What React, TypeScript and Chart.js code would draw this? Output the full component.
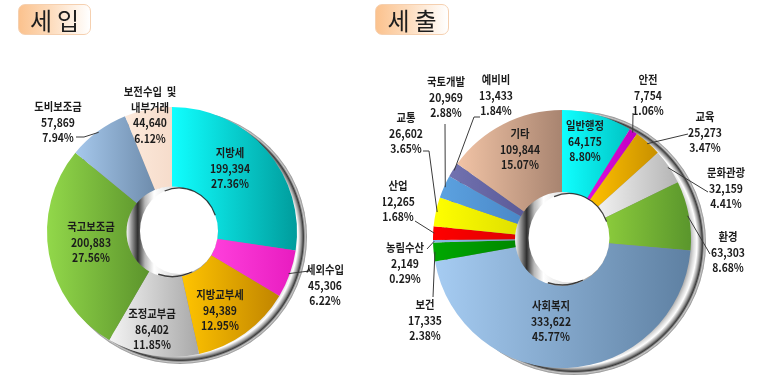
import React, { useEffect, useRef } from "react";
import { Chart, ArcElement, DoughnutController } from "chart.js";

Chart.register(ArcElement, DoughnutController);

// ---------- data ----------
const revenueCategories = ["지방세", "세외수입", "지방교부세", "조정교부금", "국고보조금", "도비보조금", "보전수입  및\n내부거래"];
const revenueValues = [199394, 45306, 94389, 86402, 200883, 57869, 44640];

const expenditureCategories = ["일반행정", "안전", "교육", "문화관광", "환경", "사회복지", "보건", "농림수산", "산업", "교통", "국토개발", "예비비", "기타"];
const expenditureValues = [64175, 7754, 25273, 32159, 63303, 333622, 17335, 2149, 12265, 26602, 20969, 13433, 109844];

// ---------- styles ----------
const revenueColors = [
  ["#10ffff", "#009c9c"],
  ["#ff40dc", "#e81cc0"],
  ["#ffc400", "#c08400"],
  ["#f4f4f4", "#a8a8a8"],
  ["#92d84a", "#5c942c"],
  ["#a6c8ec", "#6e8cac"],
  ["#fdeadc", "#f6dccb"],
];
const expenditureColors = [
  ["#10ffff", "#00c4c4"],
  ["#e010e0", "#c000c0"],
  ["#ffc000", "#c89000"],
  ["#f2f2f2", "#b4b4b4"],
  ["#8ccc3c", "#5a962c"],
  ["#a6ccf2", "#5e80a2"],
  ["#00a800", "#008800"],
  ["#8cb8e4", "#7aa6d4"],
  ["#ff0000", "#e00000"],
  ["#ffff00", "#e0e000"],
  ["#5ca2e0", "#4a88c8"],
  ["#7272b0", "#5a5a98"],
  ["#f2c4a6", "#a88470"],
];

type Placement = { x: number; y: number; lead?: number[][] };

const revenuePlacements: Placement[] = [
  { x: 230, y: 153 },
  { x: 325, y: 270, lead: [[309, 271]] },
  { x: 220, y: 295 },
  { x: 152, y: 314 },
  { x: 91, y: 227 },
  { x: 58, y: 107, lead: [[76, 137], [84, 137]] },
  { x: 150, y: 92 },
];

const expenditurePlacements: Placement[] = [
  { x: 202, y: 126 },
  { x: 265, y: 80, lead: [[250, 113]] },
  { x: 322, y: 117, lead: [[305, 134]] },
  { x: 343, y: 173, lead: [[325, 192]] },
  { x: 345, y: 237, lead: [[327, 254]] },
  { x: 168, y: 306 },
  { x: 42, y: 305, lead: [[50, 297]] },
  { x: 22, y: 248, lead: [[44, 249]] },
  { x: 15, y: 186, lead: [[32, 221]] },
  { x: 23, y: 118, lead: [[40, 151], [46, 151]] },
  { x: 63, y: 82, lead: [[62, 124]] },
  { x: 113, y: 80, lead: [[97, 117], [91, 117]] },
  { x: 137, y: 134 },
];

const CUTOUT = 0.36;
const LABEL_FONT = 'bold 11.5px "Noto Sans CJK KR", sans-serif';
const LINE_H = 15.5;

function sliceGradient(c: any, colors: string[][]) {
  const chart = c.chart;
  const i = c.dataIndex;
  if (i === undefined) return colors[0][0];
  const [c0, c1] = colors[i % colors.length];
  const area = chart.chartArea;
  if (!area) return c0;
  const data = chart.data.datasets[0].data as number[];
  const total = data.reduce((a: number, b: number) => a + b, 0);
  let before = 0;
  for (let k = 0; k < i; k++) before += data[k];
  const a0 = -Math.PI / 2 + (before / total) * Math.PI * 2;
  const a1 = a0 + (data[i] / total) * Math.PI * 2;
  const cx = (area.left + area.right) / 2;
  const R = Math.min(area.width, area.height) / 2;
  const r = R * CUTOUT;
  let minX = Infinity;
  let maxX = -Infinity;
  for (let s = 0; s <= 48; s++) {
    const a = a0 + ((a1 - a0) * s) / 48;
    for (const rr of [r, R]) {
      const x = cx + Math.cos(a) * rr;
      if (x < minX) minX = x;
      if (x > maxX) maxX = x;
    }
  }
  if (maxX - minX < 2) maxX = minX + 2;
  const g = chart.ctx.createLinearGradient(minX, 0, maxX, 0);
  g.addColorStop(0, c0);
  g.addColorStop(1, c1);
  return g;
}

type PanelProps = {
  categories: string[];
  values: number[];
  colors: string[][];
  placements: Placement[];
  left: number;
  width: number;
  padding: { left: number; right: number; top: number; bottom: number };
  bevel: { dx: number; dy: number; dr: number };
};

function DonutPanel(props: PanelProps) {
  const ref = useRef<HTMLCanvasElement>(null);
  useEffect(() => {
    const canvas = ref.current as HTMLCanvasElement;
    const { categories, values, colors, placements, padding, bevel } = props;
    const total = values.reduce((a, b) => a + b, 0);

    const decor = {
      id: "donutDecor",
      beforeDatasetsDraw(chart: any) {
        const arc = chart.getDatasetMeta(0).data[0] as any;
        if (!arc) return;
        const { x, y, outerRadius } = arc;
        const ctx = chart.ctx as CanvasRenderingContext2D;
        const bx = x + bevel.dx;
        const by = y + bevel.dy;
        const br = outerRadius + bevel.dr;
        const g = ctx.createRadialGradient(bx, by, br - 18, bx, by, br);
        g.addColorStop(0, "#8a8a8a");
        g.addColorStop(0.3, "#d8d8d8");
        g.addColorStop(0.5, "#ffffff");
        g.addColorStop(0.68, "#9a9a9a");
        g.addColorStop(0.8, "#3c3c3c");
        g.addColorStop(0.9, "#c8c8c8");
        g.addColorStop(1, "#8c8c8c");
        ctx.save();
        ctx.beginPath();
        ctx.arc(bx, by, br, 0, Math.PI * 2);
        ctx.fillStyle = g;
        ctx.fill();
        ctx.restore();
      },
      afterDatasetsDraw(chart: any) {
        const meta = chart.getDatasetMeta(0);
        const arc0 = meta.data[0] as any;
        if (!arc0) return;
        const ctx = chart.ctx as CanvasRenderingContext2D;
        const { x, y, innerRadius } = arc0;
        // inner bevel
        ctx.save();
        const hg = ctx.createLinearGradient(x - innerRadius, 0, x + innerRadius, 0);
        hg.addColorStop(0, "#f0f0f0");
        hg.addColorStop(0.05, "#9a9a9a");
        hg.addColorStop(0.12, "#2e2e2e");
        hg.addColorStop(0.2, "#b8b8b8");
        hg.addColorStop(0.3, "#ffffff");
        hg.addColorStop(0.6, "#d4d4d4");
        hg.addColorStop(1, "#6a6a6a");
        ctx.beginPath();
        ctx.arc(x, y, innerRadius + 0.5, 0, Math.PI * 2);
        ctx.fillStyle = hg;
        ctx.fill();
        // dark rim on lower part of the bevel
        ctx.beginPath();
        ctx.arc(x, y, innerRadius - 0.5, Math.PI * 0.35, Math.PI * 0.6);
        ctx.strokeStyle = "rgba(20,20,20,0.8)";
        ctx.lineWidth = 1.5;
        ctx.stroke();
        // white hole
        const wx = x + 7;
        const wy = y - 1;
        ctx.beginPath();
        ctx.ellipse(wx, wy, innerRadius - 6, innerRadius - 2, 0, 0, Math.PI * 2);
        ctx.fillStyle = "#ffffff";
        ctx.fill();
        ctx.beginPath();
        ctx.ellipse(wx, wy, innerRadius - 6, innerRadius - 2, 0, -Math.PI * 0.62, -Math.PI * 0.12);
        ctx.strokeStyle = "rgba(30,30,30,0.85)";
        ctx.lineWidth = 1.3;
        ctx.stroke();
        ctx.restore();

        // labels
        ctx.save();
        ctx.font = LABEL_FONT;
        ctx.fillStyle = "#1c1c1c";
        ctx.textAlign = "center";
        ctx.textBaseline = "middle";
        ctx.strokeStyle = "#3a3a3a";
        ctx.lineWidth = 1;
        meta.data.forEach((el: any, i: number) => {
          const p = placements[i];
          if (!p) return;
          if (p.lead) {
            const mid = (el.startAngle + el.endAngle) / 2;
            const ex = el.x + Math.cos(mid) * el.outerRadius * 0.99;
            const ey = el.y + Math.sin(mid) * el.outerRadius * 0.99;
            ctx.beginPath();
            ctx.moveTo(p.lead[0][0], p.lead[0][1]);
            for (let k = 1; k < p.lead.length; k++) ctx.lineTo(p.lead[k][0], p.lead[k][1]);
            ctx.lineTo(ex, ey);
            ctx.stroke();
          }
          const lines = [
            ...categories[i].split("\n"),
            values[i].toLocaleString("en-US"),
            ((values[i] / total) * 100).toFixed(2) + "%",
          ];
          lines.forEach((t, k) => {
            ctx.save();
            ctx.translate(p.x, p.y + k * LINE_H);
            ctx.scale(0.9, 1);
            ctx.fillText(t, 0, 0);
            ctx.restore();
          });
        });
        ctx.restore();
      },
    };

    const chart = new Chart(canvas, {
      type: "doughnut",
      data: {
        labels: categories.map((c) => c.replace("\n", " ")),
        datasets: [
          {
            data: values,
            backgroundColor: (c: any) => sliceGradient(c, colors),
            borderWidth: 0,
          },
        ],
      },
      options: {
        responsive: false,
        maintainAspectRatio: false,
        animation: false,
        cutout: `${CUTOUT * 100}%`,
        layout: { padding },
        events: [],
        plugins: { legend: { display: false }, tooltip: { enabled: false } },
      } as any,
      plugins: [decor],
    });
    return () => chart.destroy();
  }, []);
  return (
    <canvas
      ref={ref}
      width={props.width}
      height={380}
      style={{ position: "absolute", left: props.left, top: 0, width: props.width, height: 380 }}
    />
  );
}

function TitleBox({ text, left, width }: { text: string; left: number; width: number }) {
  return (
    <div
      style={{
        position: "absolute",
        left,
        top: 4,
        width,
        height: 31,
        borderRadius: 7,
        border: "1px solid #f5d0b0",
        background: "linear-gradient(to right, #fbc28e 0%, #fddcbd 45%, #ffffff 100%)",
        boxSizing: "border-box",
        display: "flex",
        alignItems: "center",
        justifyContent: "center",
        fontFamily: '"Noto Sans CJK KR", sans-serif',
        fontSize: 24,
        letterSpacing: 5,
        color: "#1e1e1e",
        lineHeight: 1,
        zIndex: 2,
      }}
    >
      <span style={{ marginLeft: 5 }}>{text}</span>
    </div>
  );
}

export default function App() {
  return (
    <div style={{ position: "fixed", left: 0, top: 0, width: 767, height: 380, background: "#fff", overflow: "hidden" }}>
      <DonutPanel
        categories={revenueCategories}
        values={revenueValues}
        colors={revenueColors}
        placements={revenuePlacements}
        left={0}
        width={383}
        padding={{ left: 47, right: 86, top: 107, bottom: 23 }}
        bevel={{ dx: 8, dy: 5, dr: 2 }}
      />
      <DonutPanel
        categories={expenditureCategories}
        values={expenditureValues}
        colors={expenditureColors}
        placements={expenditurePlacements}
        left={383}
        width={384}
        padding={{ left: 50, right: 76, top: 110, bottom: 12 }}
        bevel={{ dx: 12, dy: 4, dr: 3 }}
      />
      <TitleBox text="세입" left={18} width={73} />
      <TitleBox text="세출" left={375} width={74} />
    </div>
  );
}
